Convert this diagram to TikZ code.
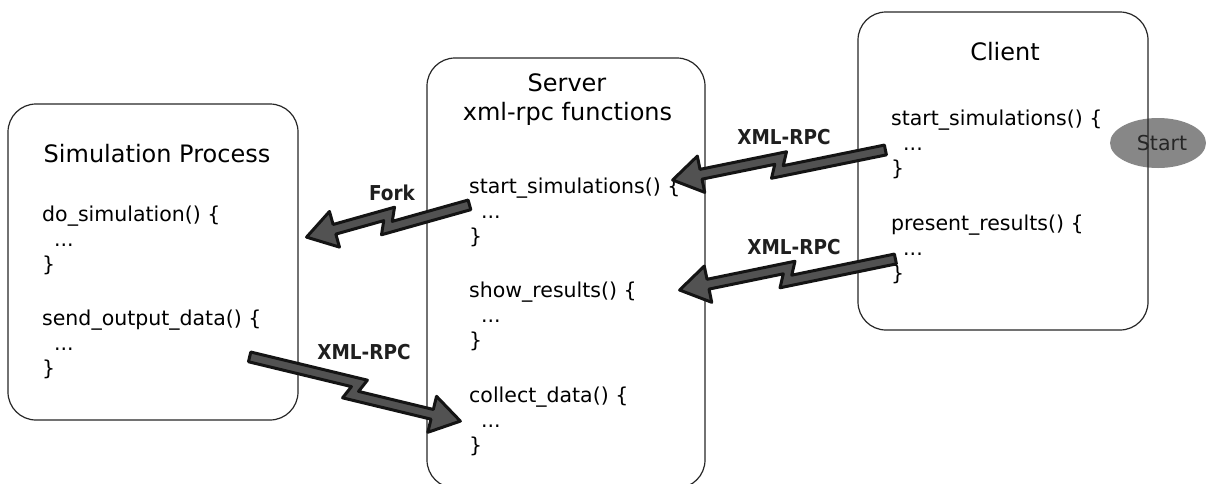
\documentclass[tikz,border=0pt]{standalone}
\usepackage{fontspec}
\setmainfont{DejaVu Sans}
\newfontfamily\lblfam[FakeStretch=0.9]{DejaVu Sans}
\usetikzlibrary{shapes.geometric}
\newcommand\titlefnt{\fontsize{24}{29}\selectfont}
\newcommand\codefnt{\fontsize{20.5}{25}\selectfont}
\newcommand\lblfnt{\lblfam\fontsize{20.5}{25}\selectfont\bfseries}
% lightning arrow from tail coordinate #1 to tip coordinate #2
\newcommand\zapbolt[2]{%
  \path (#1); \pgfgetlastxy{\boltax}{\boltay}%
  \path (#2); \pgfgetlastxy{\boltbx}{\boltby}%
  \pgfmathsetmacro\boltang{atan2(\boltby-\boltay,\boltbx-\boltax)}%
  \pgfmathsetmacro\boltlen{veclen(\boltbx-\boltax,\boltby-\boltay)}%
  \pgfmathsetmacro\bolta{\boltlen/2}%
  \begin{scope}[shift={(#1)}, rotate=\boltang]
    \filldraw[boltstyle] (0,-11.5) -- ({\bolta+10},-11.5) -- ({\bolta+4},1.5)
      -- ({\boltlen-29},1.5) -- ({\boltlen-29},-12) -- (\boltlen,6.5)
      -- ({\boltlen-29},25) -- ({\boltlen-29},11.5) -- ({\bolta-10},11.5)
      -- ({\bolta-4},-1.5) -- (0,-1.5) -- cycle;
  \end{scope}}
\begin{document}
\begin{tikzpicture}[x=1pt,y=-1pt,
  box/.style={draw=black!85, line width=1.2pt, rounded corners=28pt, inner sep=0, outer sep=0},
  title/.style={font=\titlefnt, anchor=base, inner sep=0},
  code/.style={font=\codefnt, anchor=base west, inner sep=0},
  lbl/.style={font=\lblfnt, inner sep=0, text=black!88},
  boltstyle/.style={fill=black!68, draw=black!92, line width=3pt, line join=round}]
\useasboundingbox (0,0) rectangle (1206,483);

% Start ellipse (behind client box edge)
\node[ellipse, fill=black!47, minimum width=96, minimum height=50, inner sep=0] (start) at (1158,143) {};
\node[code, anchor=base, text=black!85] (starttxt) at (1162,150) {Start};

% boxes
\node[box, minimum width=290, minimum height=316] (sim) at (153,262) {};
\node[box, minimum width=278, minimum height=430] (srv) at (566,273) {};
\node[box, minimum width=290, minimum height=318] (cli) at (1003,171) {};

% titles
\node[title] (simtitle) at (157,162) {Simulation Process};
\node[title] (srvtitle) at (567,91) {Server};
\node[title] (srvsub) at (567.5,120) {xml-rpc functions};
\node[title] (clititle) at (1005,60) {Client};

% simulation code
\node[code] (s1) at (42,221) {do\_simulation() \{};
\node[code] (s2) at (54,246) {...};
\node[code] (s3) at (42,271) {\}};
\node[code] (s4) at (42,325) {send\_output\_data() \{};
\node[code] (s5) at (54,350) {...};
\node[code] (s6) at (42,375) {\}};

% server code
\node[code] (v1) at (469,193) {start\_simulations() \{};
\node[code] (v2) at (481,218) {...};
\node[code] (v3) at (469,243) {\}};
\node[code] (v4) at (469,297) {show\_results() \{};
\node[code] (v5) at (481,322) {...};
\node[code] (v6) at (469,347) {\}};
\node[code] (v7) at (469,402) {collect\_data() \{};
\node[code] (v8) at (481,427) {...};
\node[code] (v9) at (469,452) {\}};

% client code
\node[code] (c1) at (891,125) {start\_simulations() \{};
\node[code] (c2) at (903,150) {...};
\node[code] (c3) at (891,175) {\}};
\node[code] (c4) at (891,230) {present\_results() \{};
\node[code] (c5) at (903,255) {...};
\node[code] (c6) at (891,280) {\}};

% arrow labels
\node[lbl] (lfork) at (392,193) {Fork};
\node[lbl] (lx1) at (784,137) {XML-RPC};
\node[lbl] (lx2) at (794,247) {XML-RPC};
\node[lbl] (lx3) at (364,352) {XML-RPC};

% arrow end points
\coordinate (fork-t) at (467.7,198.6);
\coordinate (fork-h) at (308.3,243.4);
\coordinate (x1-t) at (884.1,143.6);
\coordinate (x1-h) at (673.9,186.4);
\coordinate (x2-t) at (894.1,252.6);
\coordinate (x2-h) at (680.9,296.4);
\coordinate (x3-t) at (248.1,363.2);
\coordinate (x3-h) at (461.9,414.8);

\zapbolt{fork-t}{fork-h}
\zapbolt{x1-t}{x1-h}
\zapbolt{x2-t}{x2-h}
\zapbolt{x3-t}{x3-h}
\end{tikzpicture}
\end{document}
